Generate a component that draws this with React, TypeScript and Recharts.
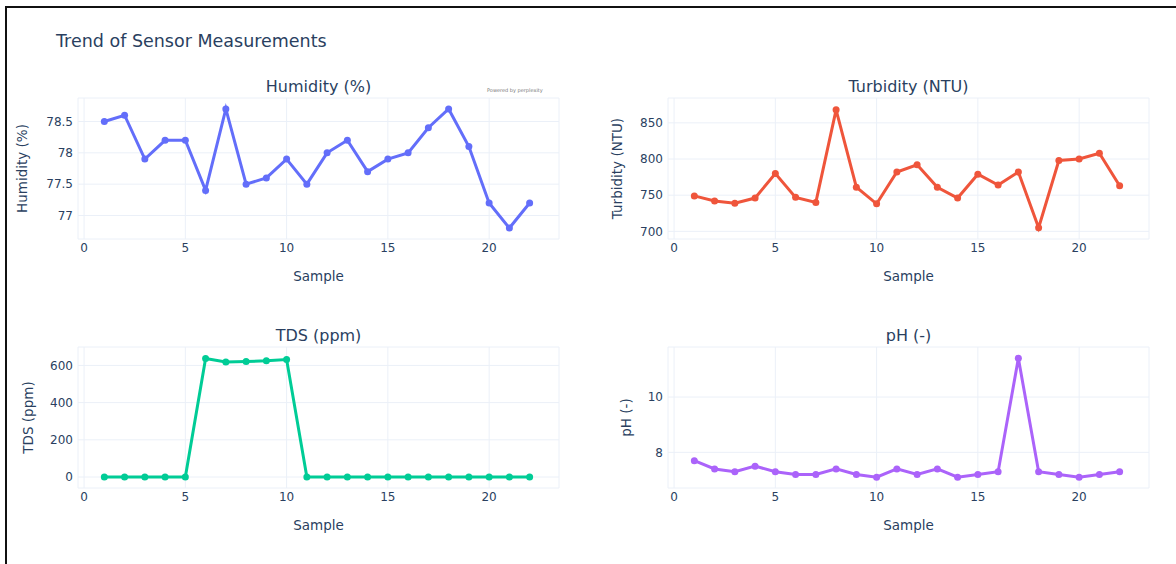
import React from 'react';
import { LineChart, Line, XAxis, YAxis, CartesianGrid } from 'recharts';

const FONT = '"DejaVu Sans", verdana, arial, sans-serif';
const TEXT = '#2a3f5f';
const GRID = '#EBF0F8';

const samples = [1, 2, 3, 4, 5, 6, 7, 8, 9, 10, 11, 12, 13, 14, 15, 16, 17, 18, 19, 20, 21, 22];
const humidity = [78.5, 78.6, 77.9, 78.2, 78.2, 77.4, 78.7, 77.5, 77.6, 77.9, 77.5, 78.0, 78.2, 77.7, 77.9, 78.0, 78.4, 78.7, 78.1, 77.2, 76.8, 77.2];
const turbidity = [749, 742, 739, 746, 780, 747, 740, 868, 761, 738, 782, 792, 761, 746, 779, 764, 782, 705, 798, 800, 808, 763];
const tds = [0, 0, 0, 0, 0, 637, 619, 621, 625, 632, 0, 0, 0, 0, 0, 0, 0, 0, 0, 0, 0, 0];
const ph = [7.7, 7.4, 7.3, 7.5, 7.3, 7.2, 7.2, 7.4, 7.2, 7.1, 7.4, 7.2, 7.4, 7.1, 7.2, 7.3, 11.4, 7.3, 7.2, 7.1, 7.2, 7.3];

const xTicks = [0, 5, 10, 15, 20];
const humidityTicks = [77, 77.5, 78, 78.5];
const turbidityTicks = [700, 750, 800, 850];
const tdsTicks = [0, 200, 400, 600];
const phTicks = [8, 10];

const chartTitle = 'Trend of Sensor Measurements';
const xLabel = 'Sample';

const PW = 481;
const PH = 141;
const YW = 80;

type SubProps = {
  plotLeft: number;
  plotTop: number;
  values: number[];
  domain: [number, number];
  ticks: number[];
  color: string;
  title: string;
  yLabel: string;
  yLabelOffset: number;
};

function Subplot(p: SubProps) {
  const data = samples.map((s, i) => ({ sample: s, value: p.values[i] }));
  const mTop = 20;
  const mRight = 10;
  const xH = 60;
  return (
    <>
      <div
        style={{
          position: 'absolute',
          left: p.plotLeft,
          top: p.plotTop - 21,
          width: PW,
          lineHeight: '20px',
          textAlign: 'center',
          fontSize: 16,
          fontFamily: FONT,
          color: TEXT,
        }}
      >
        {p.title}
      </div>
      <div style={{ position: 'absolute', left: p.plotLeft - YW, top: p.plotTop - mTop }}>
        <LineChart
          width={YW + PW + mRight}
          height={mTop + PH + xH}
          data={data}
          margin={{ top: mTop, right: mRight, bottom: 0, left: 0 }}
        >
          <CartesianGrid stroke={GRID} strokeWidth={1} />
          <XAxis
            dataKey="sample"
            type="number"
            domain={[-0.3, 23.45]}
            ticks={xTicks}
            allowDataOverflow
            axisLine={false}
            tickLine={false}
            tickSize={0}
            tickMargin={4}
            height={xH}
            tick={{ fill: TEXT, fontSize: 12, fontFamily: FONT }}
            label={{ value: xLabel, position: 'insideBottom', offset: 18, fill: TEXT, fontSize: 13.5, fontFamily: FONT }}
          />
          <YAxis
            type="number"
            domain={p.domain}
            ticks={p.ticks}
            allowDataOverflow
            axisLine={false}
            tickLine={false}
            tickSize={0}
            tickMargin={5}
            width={YW}
            tick={{ fill: TEXT, fontSize: 12, fontFamily: FONT }}
            label={{
              value: p.yLabel,
              angle: -90,
              position: 'insideLeft',
              offset: p.yLabelOffset,
              fill: TEXT,
              fontSize: 13.5,
              fontFamily: FONT,
              textAnchor: 'middle',
              style: { textAnchor: 'middle' },
            }}
          />
          <Line
            dataKey="value"
            type="linear"
            stroke={p.color}
            strokeWidth={3}
            dot={{ r: 3.5, fill: p.color, stroke: p.color, strokeWidth: 0 }}
            activeDot={false}
            isAnimationActive={false}
          />
        </LineChart>
      </div>
    </>
  );
}

export default function App() {
  return (
    <div
      style={{
        position: 'absolute',
        left: 0,
        top: 0,
        width: 1176,
        height: 564,
        overflow: 'hidden',
        background: '#ffffff',
        fontFamily: FONT,
      }}
    >
      <div style={{ position: 'absolute', left: 5, top: 6, width: 1171, height: 2, background: '#111' }} />
      <div style={{ position: 'absolute', left: 5, top: 6, width: 2, height: 558, background: '#111' }} />
      <div
        style={{
          position: 'absolute',
          left: 56,
          top: 29,
          lineHeight: '24px',
          fontSize: 17.5,
          fontFamily: FONT,
          color: TEXT,
          whiteSpace: 'nowrap',
        }}
      >
        {chartTitle}
      </div>
      <div
        style={{
          position: 'absolute',
          left: 487,
          top: 87,
          fontSize: 5,
          lineHeight: '6px',
          color: '#777',
          fontFamily: FONT,
          whiteSpace: 'nowrap',
        }}
      >
        Powered by perplexity
      </div>
      <Subplot plotLeft={78} plotTop={98} values={humidity} domain={[76.625, 78.875]} ticks={humidityTicks} color="#636efa" title="Humidity (%)" yLabel="Humidity (%)" yLabelOffset={24} />
      <Subplot plotLeft={668} plotTop={98} values={turbidity} domain={[689.4, 884.4]} ticks={turbidityTicks} color="#EF553B" title="Turbidity (NTU)" yLabel="Turbidity (NTU)" yLabelOffset={29} />
      <Subplot plotLeft={78} plotTop={347} values={tds} domain={[-59, 699]} ticks={tdsTicks} color="#00cc96" title="TDS (ppm)" yLabel="TDS (ppm)" yLabelOffset={30} />
      <Subplot plotLeft={668} plotTop={347} values={ph} domain={[6.71, 11.81]} ticks={phTicks} color="#ab63fa" title="pH (-)" yLabel="pH (-)" yLabelOffset={38} />
    </div>
  );
}
